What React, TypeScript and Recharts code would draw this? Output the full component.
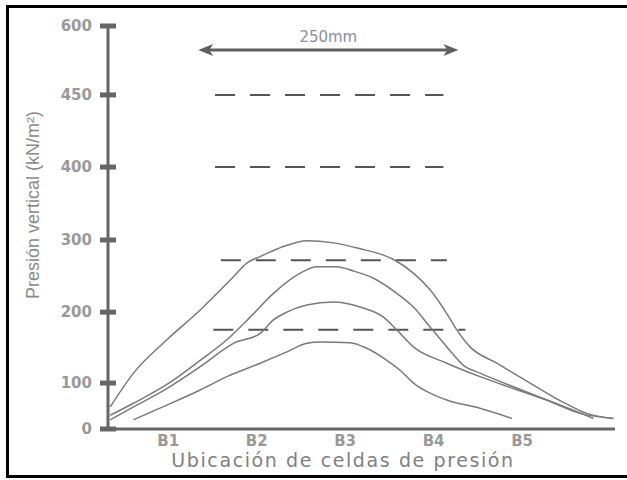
import React from "react";
import { LineChart, Line, XAxis, YAxis, ReferenceLine } from "recharts";

// y axis is not linear in the source figure: ticks sit at these fractions of the axis height
const yTicks = [0, 100, 200, 300, 400, 450, 600];
const yTickFracs = [0, 0.114, 0.29, 0.469, 0.65, 0.829, 1];

const cellTicks = [1, 2, 3, 4, 5];
const cellLabels = ["B1", "B2", "B3", "B4", "B5"];

// x = cell position (B1 = 1), p = vertical pressure kN/m2
const curve1 = [
  { x: 0.345, p: 48 }, { x: 0.608, p: 114 }, { x: 0.985, p: 161 }, { x: 1.362, p: 203 },
  { x: 1.738, p: 249 }, { x: 1.889, p: 268 }, { x: 2.04, p: 277 }, { x: 2.303, p: 291 },
  { x: 2.567, p: 299 }, { x: 2.868, p: 296 }, { x: 3.169, p: 288 }, { x: 3.433, p: 279 },
  { x: 3.546, p: 273 }, { x: 3.772, p: 254 }, { x: 3.96, p: 231 }, { x: 4.149, p: 198 },
  { x: 4.262, p: 175 }, { x: 4.412, p: 151 }, { x: 4.714, p: 128 }, { x: 5.09, p: 100 },
  { x: 5.467, p: 58 }, { x: 5.731, p: 34 }, { x: 6.032, p: 23 },
];
const curve2 = [
  { x: 0.345, p: 30 }, { x: 0.608, p: 56 }, { x: 0.985, p: 97 }, { x: 1.362, p: 132 },
  { x: 1.663, p: 161 }, { x: 1.927, p: 193 }, { x: 2.19, p: 226 }, { x: 2.492, p: 254 },
  { x: 2.68, p: 263 }, { x: 2.906, p: 263 }, { x: 3.094, p: 257 }, { x: 3.32, p: 247 },
  { x: 3.584, p: 226 }, { x: 3.772, p: 207 }, { x: 3.96, p: 179 }, { x: 4.149, p: 151 },
  { x: 4.337, p: 125 }, { x: 4.525, p: 114 }, { x: 4.902, p: 92 }, { x: 5.279, p: 63 },
  { x: 5.655, p: 34 }, { x: 6.032, p: 23 },
];
const curve3 = [
  { x: 0.345, p: 20 }, { x: 0.608, p: 48 }, { x: 0.985, p: 88 }, { x: 1.362, p: 123 },
  { x: 1.738, p: 156 }, { x: 2.04, p: 170 }, { x: 2.19, p: 189 }, { x: 2.341, p: 200 },
  { x: 2.567, p: 210 }, { x: 2.868, p: 214 }, { x: 3.169, p: 207 }, { x: 3.433, p: 193 },
  { x: 3.584, p: 175 }, { x: 3.772, p: 151 }, { x: 4.149, p: 128 }, { x: 4.525, p: 109 },
  { x: 4.902, p: 88 }, { x: 5.279, p: 63 }, { x: 5.806, p: 23 },
];
const curve4 = [
  { x: 0.608, p: 20 }, { x: 0.985, p: 52 }, { x: 1.362, p: 85 }, { x: 1.663, p: 109 },
  { x: 2.04, p: 128 }, { x: 2.341, p: 144 }, { x: 2.567, p: 156 }, { x: 2.718, p: 158 },
  { x: 3.056, p: 157 }, { x: 3.245, p: 149 }, { x: 3.471, p: 132 }, { x: 3.621, p: 118 },
  { x: 3.772, p: 100 }, { x: 3.96, p: 78 }, { x: 4.149, p: 63 }, { x: 4.525, p: 45 },
  { x: 4.884, p: 23 },
];
const curves = [curve1, curve2, curve3, curve4];

const dashLevels = [450, 400, 272, 175];
const dashStart = [1.53, 1.53, 1.595, 1.51];
const dashEnd = [4.11, 4.11, 4.15, 4.36];

const spanLevel = 548;
const spanFrom = 1.34;
const spanTo = 4.28;

function piecewiseScale(dom: number[] = [0, 600], rng: number[] = [0, 1]): any {
  let d = dom;
  let r = rng;
  const s: any = (v: number) => {
    let i = 0;
    while (i < yTicks.length - 2 && v > yTicks[i + 1]) i++;
    const t = (v - yTicks[i]) / (yTicks[i + 1] - yTicks[i]);
    const f = yTickFracs[i] + t * (yTickFracs[i + 1] - yTickFracs[i]);
    return r[0] + f * (r[1] - r[0]);
  };
  s.domain = (nd?: number[]) => {
    if (nd === undefined) return d;
    d = nd;
    return s;
  };
  s.range = (nr?: number[]) => {
    if (nr === undefined) return r;
    r = nr;
    return s;
  };
  s.copy = () => piecewiseScale(d.slice(), r.slice());
  s.ticks = () => yTicks;
  s.invert = (px: number) => {
    const f = (px - r[0]) / (r[1] - r[0]);
    let i = 0;
    while (i < yTickFracs.length - 2 && f > yTickFracs[i + 1]) i++;
    const t = (f - yTickFracs[i]) / (yTickFracs[i + 1] - yTickFracs[i]);
    return yTicks[i] + t * (yTicks[i + 1] - yTicks[i]);
  };
  return s;
}

const yScale = piecewiseScale();

const tickFont = "DejaVu Sans";

const YTick = (props: any) => {
  const { x, y, payload } = props;
  return (
    <g>
      <rect x={x - 8} y={y - 2.5} width={16} height={5} fill="#666" />
      <text x={x - 16} y={y + 5} textAnchor="end" fontSize={15} fontWeight="bold" fill="#999" fontFamily={tickFont}>
        {payload.value}
      </text>
    </g>
  );
};

const XTick = (props: any) => {
  const { x, y, payload } = props;
  return (
    <text x={x} y={y + 17} textAnchor="middle" fontSize={15} fontWeight="bold" fill="#999" fontFamily={tickFont}>
      {cellLabels[payload.value - 1]}
    </text>
  );
};

const SpanArrow = (props: any) => {
  const { x1, y1, x2 } = props;
  const y = y1;
  return (
    <g>
      <line x1={x1 + 6} y1={y} x2={x2 - 6} y2={y} stroke="#5f5f5f" strokeWidth={3} />
      <polygon points={`${x1},${y} ${x1 + 15},${y - 6} ${x1 + 11},${y} ${x1 + 15},${y + 6}`} fill="#5f5f5f" />
      <polygon points={`${x2},${y} ${x2 - 15},${y - 6} ${x2 - 11},${y} ${x2 - 15},${y + 6}`} fill="#5f5f5f" />
      <text x={(x1 + x2) / 2} y={y - 8} textAnchor="middle" fontSize={15} fill="#8a8f99" fontFamily={tickFont}>
        250mm
      </text>
    </g>
  );
};

export default function App() {
  return (
    <div
      style={{
        position: "absolute",
        left: 6,
        top: 5,
        width: 621,
        height: 473,
        borderTop: "3px solid #000",
        borderLeft: "3px solid #000",
        borderBottom: "3px solid #000",
        boxSizing: "border-box",
        background: "#fff",
      }}
    >
      <LineChart width={618} height={467} margin={{ top: 18, right: 12, left: 0, bottom: 0 }}>
        <XAxis
          type="number"
          dataKey="x"
          domain={[0.32, 6.05]}
          allowDataOverflow
          ticks={cellTicks}
          tickLine={false}
          tickSize={0}
          tickMargin={0}
          axisLine={{ stroke: "#666", strokeWidth: 3 }}
          tick={<XTick />}
          height={46}
          label={{
            content: ({ viewBox }: any) => (
              <text
                x={334}
                y={viewBox.y + 38}
                textAnchor="middle"
                fontSize={19}
                letterSpacing={1.6}
                fill="#808080"
                fontFamily="DejaVu Sans"
              >
                Ubicación de celdas de presión
              </text>
            ),
          }}
        />
        <YAxis
          type="number"
          dataKey="p"
          domain={[0, 600]}
          scale={yScale}
          ticks={yTicks}
          interval={0}
          tickLine={false}
          tickSize={0}
          tickMargin={0}
          axisLine={{ stroke: "#666", strokeWidth: 3 }}
          tick={<YTick />}
          width={99}
          label={{
            content: () => (
              <text
                x={24}
                y={197}
                transform="rotate(-90, 24, 197)"
                textAnchor="middle"
                dominantBaseline="central"
                fontSize={18}
                fill="#8a8a8a"
                fontFamily="Liberation Sans"
              >
                Presión vertical (kN/m²)
              </text>
            ),
          }}
        />
        {dashLevels.map((lv, i) => (
          <ReferenceLine
            key={lv}
            segment={[
              { x: dashStart[i], y: lv },
              { x: dashEnd[i], y: lv },
            ]}
            stroke="#555"
            strokeWidth={2}
            strokeDasharray="20 15"
          />
        ))}
        <ReferenceLine
          segment={[
            { x: spanFrom, y: spanLevel },
            { x: spanTo, y: spanLevel },
          ]}
          shape={<SpanArrow />}
        />
        {curves.map((c, i) => (
          <Line
            key={i}
            data={c}
            dataKey="p"
            type="monotone"
            dot={false}
            stroke="#7a7a7a"
            strokeWidth={1.5}
            isAnimationActive={false}
          />
        ))}
      </LineChart>
    </div>
  );
}
